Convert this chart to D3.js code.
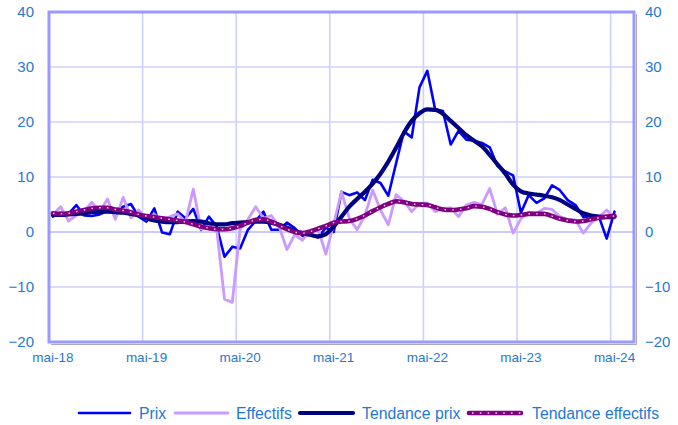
<!DOCTYPE html>
<html><head><meta charset="utf-8">
<script src="https://cdn.jsdelivr.net/npm/d3@7"></script>
<style>html,body{margin:0;padding:0;background:#fff;} svg{display:block;font-family:"Liberation Sans",Arial,sans-serif;}</style>
</head><body><svg id="c" width="678" height="425"></svg>
<script>
// ---------- DATA ----------
const monthNames = ["janv","févr","mars","avr","mai","juin","juil","août","sept","oct","nov","déc"];
const startYear = 2018, startMonth = 4, nCategories = 75; // mai-18 .. juil-24 (axis extent)
const categories = d3.range(nCategories).map(k => {
  const m = (startMonth + k) % 12, yr = startYear + Math.floor((startMonth + k) / 12);
  return monthNames[m] + "-" + String(yr % 100).padStart(2, "0");
});
const tickLabels = ["mai-18","mai-19","mai-20","mai-21","mai-22","mai-23","mai-24"];
const yTicks = [-20,-10,0,10,20,30,40];

const prix = [2.8,3.5,3.3,4.9,3.0,2.9,3.2,3.8,4.0,4.6,
  5.1,2.8,1.9,4.3,-0.1,-0.4,3.7,2.5,4.2,0.4,
  2.8,1.0,-4.5,-2.7,-3.0,0.4,2.0,3.7,0.4,0.4,
  1.7,0.7,-0.7,-0.5,-1.0,0.8,0.0,7.3,6.7,7.2,
  5.8,9.5,8.9,6.6,12.5,18.3,17.2,26.3,29.3,22.3,
  22.0,15.9,18.4,16.8,16.6,16.2,15.4,12.0,11.0,10.3,
  3.5,6.7,5.3,6.1,8.5,7.6,5.8,4.9,2.7,2.9,
  2.8,-1.2,3.7];
const effectifs = [3.2,4.6,2.0,3.0,3.8,5.4,3.7,6.0,2.3,6.3,
  2.6,4.0,2.3,3.2,2.0,2.8,3.3,1.8,7.8,0.5,
  1.3,0.5,-12.2,-12.8,0.5,2.3,4.6,2.5,3.0,1.0,
  -3.2,-0.5,-1.5,0.3,0.5,-4.0,1.5,7.3,2.5,0.4,
  3.0,7.6,4.0,1.3,6.8,5.6,3.7,5.2,5.3,3.7,
  4.3,4.4,2.8,4.9,5.4,5.0,7.9,3.2,4.4,-0.2,
  2.4,3.6,3.4,4.3,4.1,2.8,2.3,2.2,-0.2,1.6,
  2.7,4.0,2.5];
const tendancePrix = [3.1,3.1,3.2,3.3,3.4,3.6,3.7,3.7,3.6,3.5,
  3.3,3.0,2.5,2.1,1.9,1.8,1.8,1.9,2.0,1.9,
  1.6,1.4,1.4,1.6,1.7,1.8,1.9,1.9,1.7,1.3,
  0.8,0.2,-0.2,-0.5,-0.8,-0.4,1.0,2.8,4.6,6.0,
  7.3,8.8,10.6,12.8,15.3,18.0,20.2,21.6,22.3,22.2,
  21.5,20.2,18.9,17.6,16.6,15.6,14.0,12.3,10.6,8.6,
  7.4,7.0,6.8,6.6,6.3,5.8,5.0,4.2,3.4,3.0,
  2.8,2.7,2.8];
const tendanceEffectifs = [3.4,3.3,3.4,3.7,4.0,4.3,4.4,4.4,4.1,3.9,
  3.6,3.2,2.9,2.7,2.5,2.3,2.1,1.8,1.4,1.0,
  0.7,0.5,0.5,0.7,1.1,1.7,2.2,2.3,1.9,1.2,
  0.5,0.0,-0.2,0.1,0.6,1.1,1.7,1.9,2.0,2.4,
  3.0,3.8,4.5,5.1,5.6,5.4,5.1,5.0,4.9,4.5,
  4.1,4.0,4.1,4.3,4.7,4.6,4.2,3.6,3.2,3.0,
  3.1,3.3,3.3,3.3,2.9,2.4,2.1,1.9,2.0,2.3,
  2.6,2.8,2.9];
const seriesNames = ["Prix","Effectifs","Tendance prix","Tendance effectifs"];

// ---------- CHART ----------
const svg = d3.select("#c");
const L = 49, R = 634, T = 12, B = 342;
const x = d3.scaleBand().domain(categories).range([L, R]).paddingInner(0).paddingOuter(0);
const bw = x.bandwidth();
const y = d3.scaleLinear().domain([-20, 40]).range([B, T]);
const cx = i => x(categories[i]) + bw / 2;
const textColor = "#1f78d4";
const ff = '"Liberation Sans",Arial,sans-serif';

// gridlines
const g = svg.append("g");
g.selectAll("line.h").data(yTicks.filter(v => v > -20 && v < 40)).join("line")
  .attr("x1", L).attr("x2", R).attr("y1", d => y(d)).attr("y2", d => y(d))
  .attr("stroke", d => d === 0 ? "#b8b8ff" : "#d0d0ff").attr("stroke-width", 1.6);
g.selectAll("line.v").data(tickLabels.slice(1)).join("line")
  .attr("x1", d => x(d)).attr("x2", d => x(d)).attr("y1", T).attr("y2", B)
  .attr("stroke", "#d0d0ff").attr("stroke-width", 1.6);

// border with shadow
svg.append("line").attr("x1", R + 2.5).attr("x2", R + 2.5).attr("y1", T + 2).attr("y2", B + 2.5)
  .attr("stroke", "#a8a8c0").attr("stroke-width", 1);
svg.append("line").attr("x1", L + 2).attr("x2", R + 2.5).attr("y1", B + 2.5).attr("y2", B + 2.5)
  .attr("stroke", "#a8a8c0").attr("stroke-width", 1);
svg.append("rect").attr("x", L).attr("y", T).attr("width", R - L).attr("height", B - T)
  .attr("fill", "none").attr("stroke", "#9999ff").attr("stroke-width", 3);

// axes labels
const leftAxis = d3.axisLeft(y).tickValues(yTicks).tickSize(0).tickPadding(15);
const gl = svg.append("g").attr("transform", `translate(${L},0)`).call(leftAxis);
gl.select(".domain").remove();
gl.selectAll("text").attr("fill", textColor).style("font-size", "15px").style("font-family", ff);
const rightAxis = d3.axisRight(y).tickValues(yTicks).tickSize(0).tickPadding(11);
const gr = svg.append("g").attr("transform", `translate(${R},0)`).call(rightAxis);
gr.select(".domain").remove();
gr.selectAll("text").attr("fill", textColor).style("font-size", "15px").style("font-family", ff);
const bottomAxis = d3.axisBottom(x).tickValues(tickLabels).tickSize(0).tickPadding(10);
const gb = svg.append("g").attr("transform", `translate(0,${B})`).call(bottomAxis);
gb.select(".domain").remove();
gb.selectAll("text").attr("fill", textColor).style("font-size", "13.5px").style("font-family", ff);

// lines
const lin = d3.line().x((d, i) => cx(i)).y(d => y(d)).curve(d3.curveLinear);
const smooth = d3.line().x((d, i) => cx(i)).y(d => y(d)).curve(d3.curveMonotoneX);
const lg = svg.append("g").attr("fill", "none").attr("stroke-linejoin", "round").attr("stroke-linecap", "round");
lg.append("path").attr("d", lin(prix)).attr("stroke", "#0000ff").attr("stroke-width", 2.6);
lg.append("path").attr("d", lin(effectifs)).attr("stroke", "#cc99ff").attr("stroke-width", 2.8);
lg.append("path").attr("d", smooth(tendancePrix)).attr("stroke", "#000080").attr("stroke-width", 4.2);
lg.append("path").attr("d", smooth(tendanceEffectifs)).attr("stroke", "#800080").attr("stroke-width", 4.6);
lg.append("path").attr("d", smooth(tendanceEffectifs)).attr("stroke", "#e8c8e8").attr("stroke-width", 1.4)
  .attr("stroke-linecap", "butt").attr("stroke-dasharray", "1.6 6.2");

// legend
const legendPos = [[79,130,139],[175,228,236],[300,353,362],[469,521,532]];
const legendStyle = [
  {c:"#0000ff", w:2.6}, {c:"#cc99ff", w:2.8}, {c:"#000080", w:4.2}, {c:"#800080", w:4.6, dots:true}
];
const leg = svg.append("g");
seriesNames.forEach((name, k) => {
  const [x1, x2, tx] = legendPos[k], st = legendStyle[k];
  leg.append("line").attr("x1", x1).attr("x2", x2).attr("y1", 413).attr("y2", 413)
    .attr("stroke", st.c).attr("stroke-width", st.w).attr("stroke-linecap", "round");
  if (st.dots) leg.append("line").attr("x1", x1 + 3).attr("x2", x2).attr("y1", 413).attr("y2", 413)
    .attr("stroke", "#e8c8e8").attr("stroke-width", 1.4).attr("stroke-dasharray", "1.6 6.2");
  leg.append("text").attr("x", tx).attr("y", 419).attr("fill", textColor)
    .style("font-size", "15.8px").style("font-family", ff).text(name);
});
</script></body></html>
